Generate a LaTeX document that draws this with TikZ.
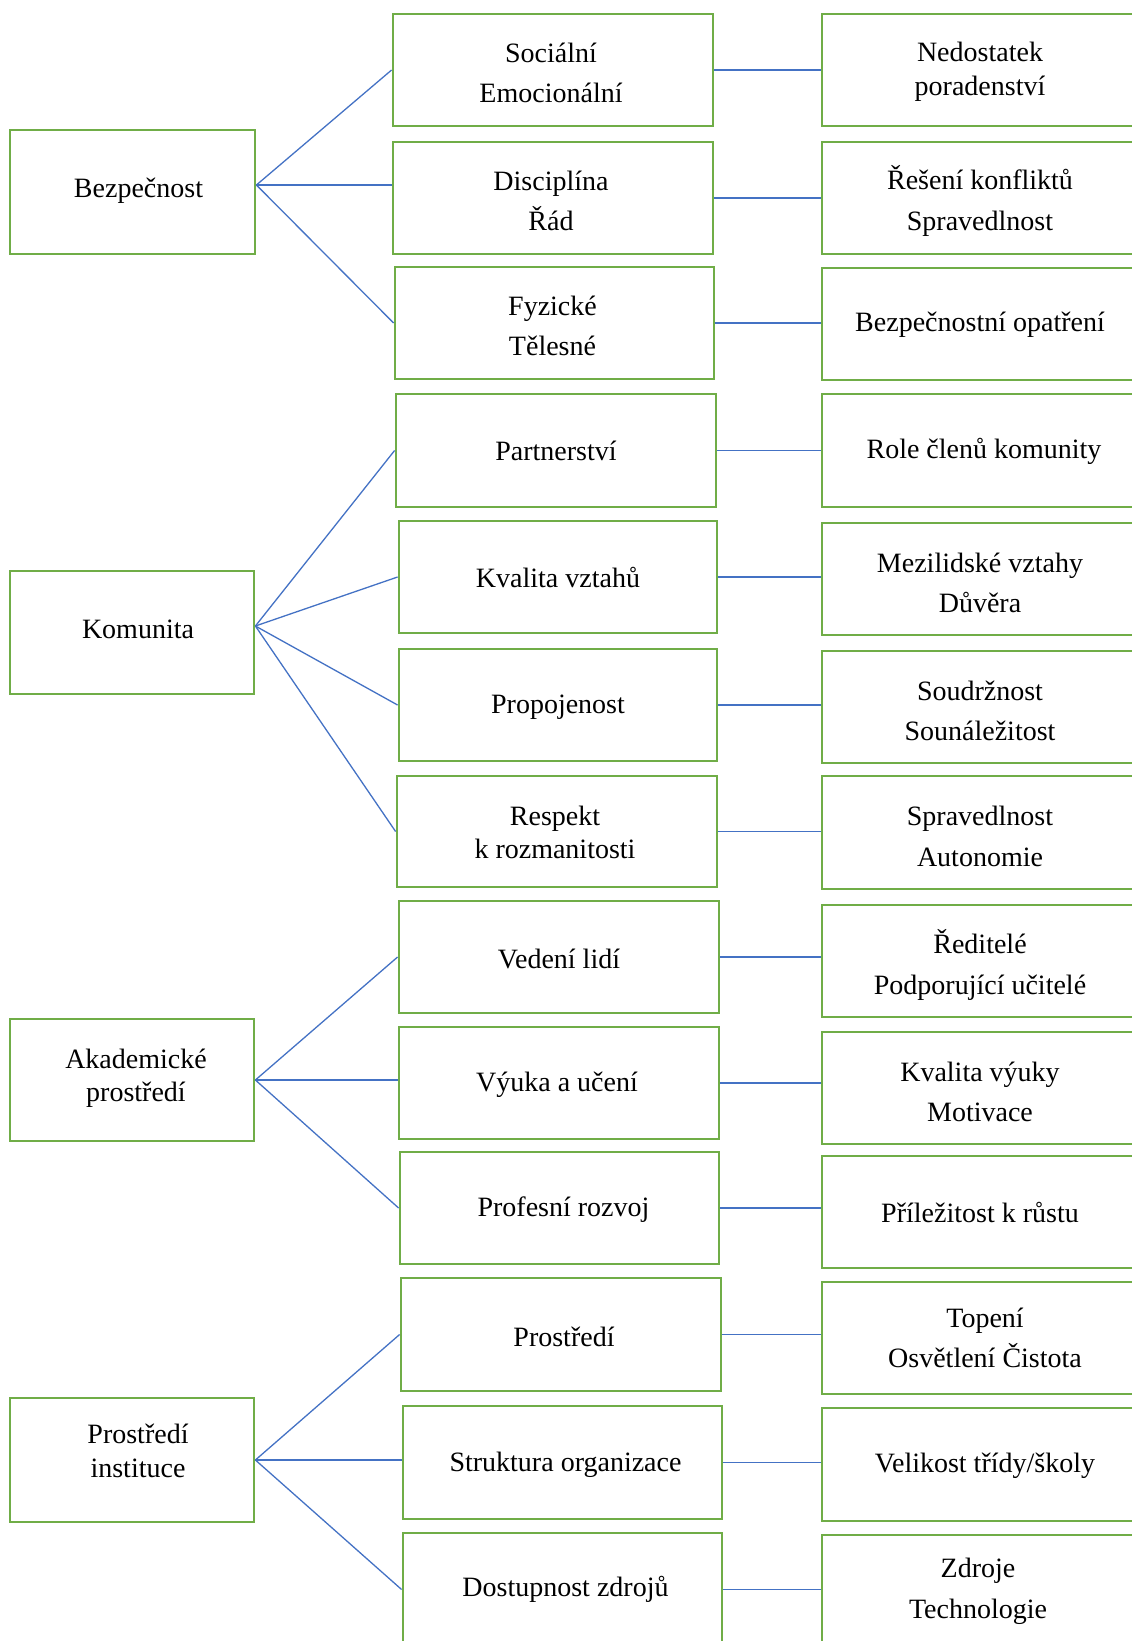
\documentclass[tikz,border=0pt]{standalone}
\usepackage{fontspec}
\setmainfont{Liberation Serif}
\definecolor{boxgreen}{HTML}{70AD47}
\definecolor{linkblue}{HTML}{4472C4}
% box by its corners: name, x1, y1, x2, y2, text, text offset
\newcommand\boxat[7]{%
  \node[box, minimum width={#4-#2}, minimum height={#5-#3}] (#1)
    at ({(#2+#4)/2},{(#3+#5)/2}) {};
  \node[txt, shift={#7}] (#1t) at (#1.center) {#6};}
\begin{document}
\begin{tikzpicture}[x=1pt,y=-1pt,
  box/.style={draw=boxgreen, line width=2.8pt, fill=white, inner sep=0pt},
  txt/.style={inner sep=0pt, align=center, font=\fontsize{28}{33.5}\selectfont},
  link/.style={draw=linkblue, line width=1.3pt}]
\useasboundingbox (0,0) rectangle (1132,1641);
\clip (0,0) rectangle (1132,1641);

% left column: main areas
\boxat{L1}{10}{130}{255}{254}{Bezpečnost}{(6,-1)}
\boxat{L2}{10}{571}{254}{694}{Komunita}{(6,-3)}
\boxat{L3}{10}{1019}{254}{1141}{Akademické\\prostředí}{(4,-2)}
\boxat{L4}{10}{1398}{254}{1522}{Prostředí\\instituce}{(6,-9)}

% middle column: dimensions
\boxat{M1}{393}{14}{713}{126}{Sociální\\[7pt]Emocionální}{(-2,3)}
\boxat{M2}{393}{142}{713}{254}{Disciplína\\[7pt]Řád}{(-2,3)}
\boxat{M3}{395}{267}{714}{379}{Fyzické\\[7pt]Tělesné}{(-2,3)}
\boxat{M4}{396}{394}{716}{507}{Partnerství}{(0,0)}
\boxat{M5}{399}{521}{717}{633}{Kvalita vztahů}{(0,0)}
\boxat{M6}{399}{649}{717}{761}{Propojenost}{(0,2)}
\boxat{M7}{397}{776}{717}{887}{Respekt\\k rozmanitosti}{(-2,1)}
\boxat{M8}{399}{901}{719}{1013}{Vedení lidí}{(0,2)}
\boxat{M9}{399}{1027}{719}{1139}{Výuka a učení}{(-2,2)}
\boxat{M10}{400}{1152}{719}{1264}{Profesní rozvoj}{(4,2)}
\boxat{M11}{401}{1278}{721}{1391}{Prostředí}{(3,2)}
\boxat{M12}{403}{1406}{722}{1519}{Struktura organizace}{(3,2)}
\boxat{M13}{403}{1533}{722}{1646}{Dostupnost zdrojů}{(3,0)}

% right column: indicators
\boxat{R1}{822}{14}{1138}{126}{Nedostatek\\poradenství}{(0,2)}
\boxat{R2}{822}{142}{1138}{254}{Řešení konfliktů\\[7pt]Spravedlnost}{(0,3)}
\boxat{R3}{822}{268}{1138}{380}{Bezpečnostní opatření}{(0,1)}
\boxat{R4}{822}{394}{1138}{507}{Role členů komunity}{(4,1)}
\boxat{R5}{822}{523}{1138}{635}{Mezilidské vztahy\\[7pt]Důvěra}{(0,4)}
\boxat{R6}{822}{651}{1138}{763}{Soudržnost\\[7pt]Sounáležitost}{(0,4)}
\boxat{R7}{822}{776}{1138}{889}{Spravedlnost\\[7pt]Autonomie}{(0,4)}
\boxat{R8}{822}{905}{1138}{1017}{Ředitelé\\[7pt]Podporující učitelé}{(0,4)}
\boxat{R9}{822}{1032}{1138}{1144}{Kvalita výuky\\[7pt]Motivace}{(0,4)}
\boxat{R10}{822}{1156}{1138}{1268}{Příležitost k růstu}{(0,0)}
\boxat{R11}{822}{1282}{1138}{1394}{Topení\\[7pt]Osvětlení Čistota}{(5,0)}
\boxat{R12}{822}{1408}{1138}{1521}{Velikost třídy/školy}{(5,1)}
\boxat{R13}{822}{1535}{1138}{1648}{Zdroje\\[7pt]Technologie}{(-2,0)}

% fan-out points on the main areas
\coordinate (o1) at ([yshift=7pt]L1.east);
\coordinate (o2) at ([yshift=6.5pt]L2.east);
\coordinate (o3) at (L3.east);
\coordinate (o4) at (L4.east);

% main area -> dimensions
\draw[link] (o1) -- (M1.west);
\draw[link] (o1) -- (o1 -| M2.west);
\draw[link] (o1) -- (M3.west);
\foreach \m in {M4,M5,M6,M7} \draw[link] (o2) -- (\m.west);
\draw[link] (o3) -- (M8.west);
\draw[link] (o3) -- (o3 -| M9.west);
\draw[link] (o3) -- (M10.west);
\draw[link] (o4) -- (M11.west);
\draw[link] (o4) -- (o4 -| M12.west);
\draw[link] (o4) -- (M13.west);

% dimension -> indicator
\foreach \i in {1,...,13} \draw[link] (M\i.east) -- (M\i.east -| R\i.west);
\end{tikzpicture}
\end{document}
